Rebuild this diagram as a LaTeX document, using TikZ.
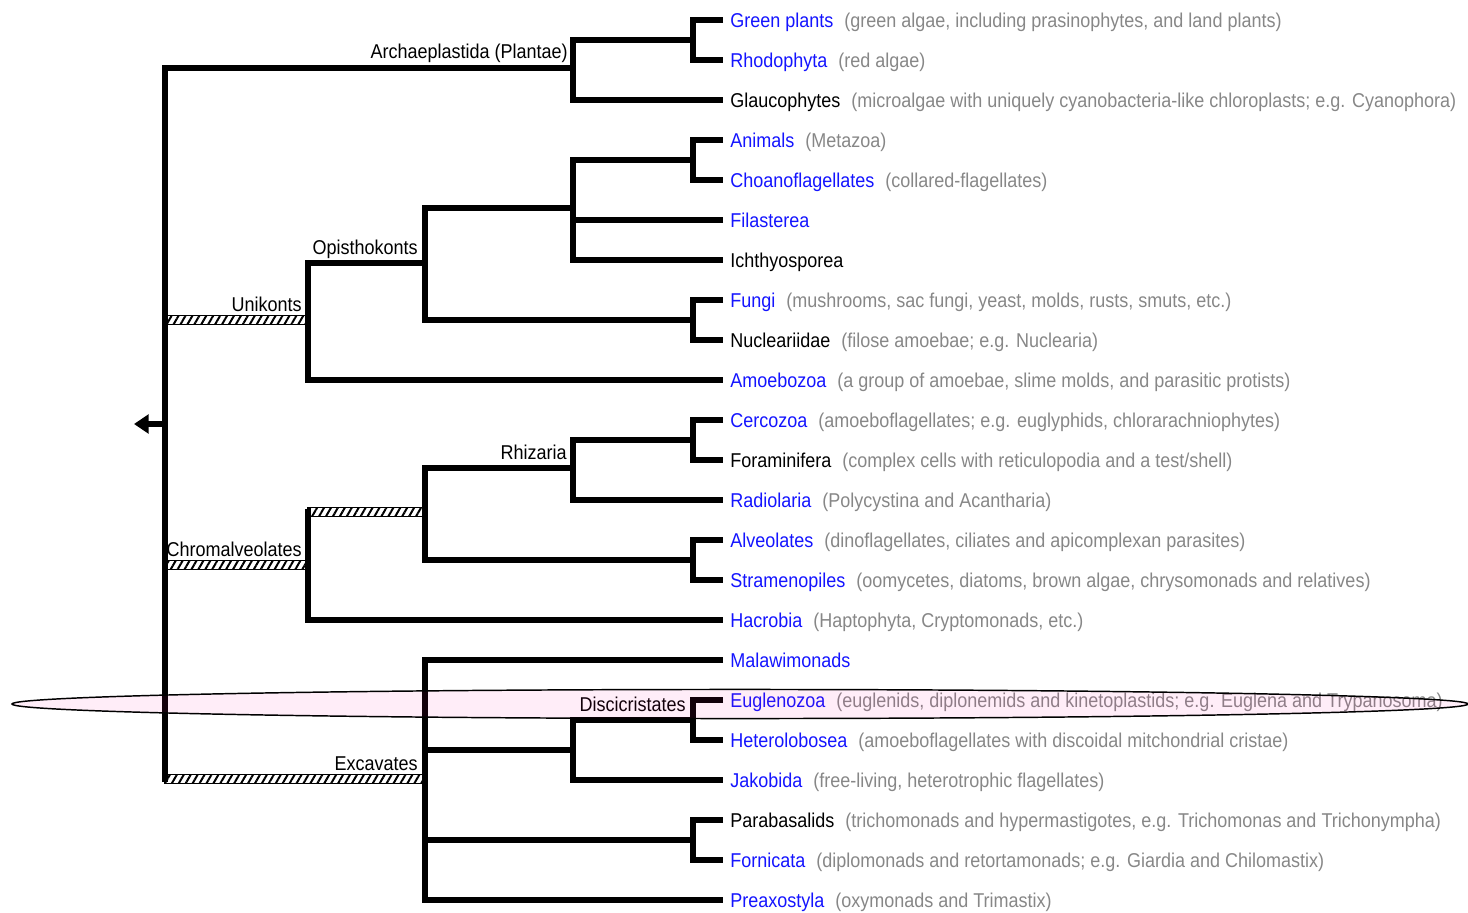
\documentclass[tikz,border=0pt]{standalone}
\usepackage{fontspec}
\setmainfont[FakeStretch=0.9]{Liberation Sans}
\usetikzlibrary{arrows.meta,patterns.meta,calc}
\definecolor{nameblue}{RGB}{20,20,255}
\definecolor{descgray}{RGB}{135,135,135}
\definecolor{ellfill}{RGB}{255,0,150}
\newcommand\nb[1]{\textcolor{nameblue}{#1}}
\newcommand\nk[1]{\textcolor{black}{#1}}
\newcommand\ds[1]{\hspace{0.55em}\textcolor{descgray}{#1}}
\newcommand\leafrow[4]{%
  \coordinate (#1) at (723,#2);
  \node[leaflab] (#1-t) at ([xshift=5.25pt,yshift=-5.3pt]#1) {#3#4};}
\tikzset{
  branch/.style={line width=4.6pt, line join=miter, line cap=butt},
  leaflab/.style={inner sep=0pt, anchor=base west, font=\fontsize{15}{17}\selectfont},
  cladelab/.style={inner sep=0pt, anchor=base east, font=\fontsize{15}{17}\selectfont},
  hatchbar/.style={draw=black, line width=1.3pt, pattern={Lines[angle=60,distance=4.5pt,line width=1.5pt]}}
}
\begin{document}
\begin{tikzpicture}[x=0.75pt,y=-0.75pt]
\useasboundingbox (0,0) rectangle (1468,913);
% leaves
\leafrow{gp}{20}{\nb{Green plants}}{\ds{(green algae, including prasinophytes, and land plants)}}
\leafrow{rh}{60}{\nb{Rhodophyta}}{\ds{(red algae)}}
\leafrow{gl}{100}{\nk{Glaucophytes}}{\ds{(microalgae with uniquely cyanobacteria-like chloroplasts; e.g. Cyanophora)}}
\leafrow{an}{140}{\nb{Animals}}{\ds{(Metazoa)}}
\leafrow{ch}{180}{\nb{Choanoflagellates}}{\ds{(collared-flagellates)}}
\leafrow{fi}{220}{\nb{Filasterea}}{}
\leafrow{ic}{260}{\nk{Ichthyosporea}}{}
\leafrow{fu}{300}{\nb{Fungi}}{\ds{(mushrooms, sac fungi, yeast, molds, rusts, smuts, etc.)}}
\leafrow{nu}{340}{\nk{Nucleariidae}}{\ds{(filose amoebae; e.g. Nuclearia)}}
\leafrow{am}{380}{\nb{Amoebozoa}}{\ds{(a group of amoebae, slime molds, and parasitic protists)}}
\leafrow{ce}{420}{\nb{Cercozoa}}{\ds{(amoeboflagellates; e.g. euglyphids, chlorarachniophytes)}}
\leafrow{fo}{460}{\nk{Foraminifera}}{\ds{(complex cells with reticulopodia and a test/shell)}}
\leafrow{ra}{500}{\nb{Radiolaria}}{\ds{(Polycystina and Acantharia)}}
\leafrow{al}{540}{\nb{Alveolates}}{\ds{(dinoflagellates, ciliates and apicomplexan parasites)}}
\leafrow{st}{580}{\nb{Stramenopiles}}{\ds{(oomycetes, diatoms, brown algae, chrysomonads and relatives)}}
\leafrow{ha}{620}{\nb{Hacrobia}}{\ds{(Haptophyta, Cryptomonads, etc.)}}
\leafrow{ma}{660}{\nb{Malawimonads}}{}
\leafrow{eu}{700}{\nb{Euglenozoa}}{\ds{(euglenids, diplonemids and kinetoplastids; e.g. Euglena and Trypanosoma)}}
\leafrow{he}{740}{\nb{Heterolobosea}}{\ds{(amoeboflagellates with discoidal mitchondrial cristae)}}
\leafrow{ja}{780}{\nb{Jakobida}}{\ds{(free-living, heterotrophic flagellates)}}
\leafrow{pa}{820}{\nk{Parabasalids}}{\ds{(trichomonads and hypermastigotes, e.g. Trichomonas and Trichonympha)}}
\leafrow{fr}{860}{\nb{Fornicata}}{\ds{(diplomonads and retortamonads; e.g. Giardia and Chilomastix)}}
\leafrow{pr}{900}{\nb{Preaxostyla}}{\ds{(oxymonads and Trimastix)}}
% junctions
\coordinate (j-gr) at (693,40);
\coordinate (j-arch) at (573,68);
\coordinate (root) at (165,424);
\coordinate (rootbot) at (165,782);
\coordinate (rootarrow) at (134,424);
\coordinate (j-ac) at (693,160);
\coordinate (j-hol) at (573,208);
\coordinate (j-fn) at (693,320);
\coordinate (j-op) at (425,263);
\coordinate (j-uni) at (308,320);
\coordinate (j-cf) at (693,440);
\coordinate (j-rh) at (573,468);
\coordinate (j-as) at (693,560);
\coordinate (j-sar) at (425,512);
\coordinate (j-chrtop) at (308,509);
\coordinate (j-chr) at (308,565);
\coordinate (j-ex) at (425,779);
\coordinate (j-eh) at (693,720);
\coordinate (j-dis) at (573,750);
\coordinate (j-pf) at (693,840);
% hatched bars
\path[hatchbar] ([yshift=3.4pt]root |- j-uni) rectangle ([yshift=-3.4pt]j-uni);
\path[hatchbar] ([yshift=3.4pt]j-chr |- j-sar) rectangle ([yshift=-3.4pt]j-sar);
\path[hatchbar] ([yshift=3.4pt]root |- j-chr) rectangle ([yshift=-3.4pt]j-chr);
\path[hatchbar] ([yshift=3.4pt]root |- j-ex) rectangle ([yshift=-3.4pt]j-ex);
% branches
\draw[branch] (gp) -| (j-gr) |- (rh);
\draw[branch] (j-gr) -| (j-arch) |- (gl);
\draw[branch] (j-arch) -| (rootbot);
\draw[branch,-{Triangle[length=11pt,width=14pt]}] (root) -- (rootarrow);
\draw[branch] (an) -| (j-ac) |- (ch);
\draw[branch] (j-ac) -| (j-hol) |- (ic);
\draw[branch] (fi) -- (fi -| j-hol);
\draw[branch] (fu) -| (j-fn) |- (nu);
\draw[branch] (j-hol) -| (j-op) |- (j-fn);
\draw[branch] (j-op) -| (j-uni) |- (am);
\draw[branch] (ce) -| (j-cf) |- (fo);
\draw[branch] (j-cf) -| (j-rh) |- (ra);
\draw[branch] (al) -| (j-as) |- (st);
\draw[branch] (j-rh) -| (j-sar) |- (j-as);
\draw[branch] (j-chrtop) |- (ha);
\draw[branch] (ma) -| (j-ex) |- (pr);
\draw[branch] (eu) -| (j-eh) |- (he);
\draw[branch] (j-eh) -| (j-dis) |- (ja);
\draw[branch] (j-dis) -- (j-dis -| j-ex);
\draw[branch] (pa) -| (j-pf) |- (fr);
\draw[branch] (j-pf) -- (j-pf -| j-ex);
% clade labels
\node[cladelab] (l-arch) at (568,59) {Archaeplastida (Plantae)};
\node[cladelab] (l-op) at (418,254) {Opisthokonts};
\node[cladelab] (l-uni) at (302,311) {Unikonts};
\node[cladelab] (l-rh) at (567,459) {Rhizaria};
\node[cladelab] (l-chr) at (302,556) {Chromalveolates};
\node[cladelab] (l-ex) at (418,770) {Excavates};
\node[cladelab] (l-dis) at (686,711) {Discicristates};
% highlight ellipse
\draw[line width=1.1pt, fill=ellfill, fill opacity=0.07] (740,704) ellipse [x radius=546pt, y radius=10.9pt];
\end{tikzpicture}
\end{document}
